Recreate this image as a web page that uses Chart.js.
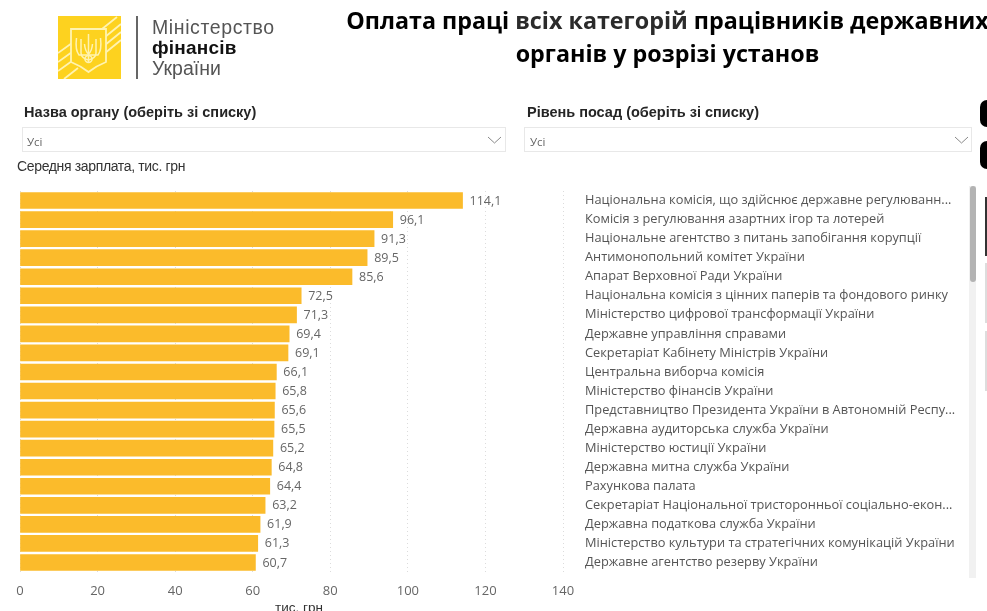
<!DOCTYPE html>
<html lang="uk">
<head>
<meta charset="utf-8">
<title>Оплата праці</title>
<script src="https://cdn.jsdelivr.net/npm/chart.js@4"></script>
<style>
html,body{margin:0;padding:0;background:#fff;}
#page{position:relative;width:987px;height:611px;overflow:hidden;background:#fff;}
#page div{position:absolute;}
#chart{position:absolute;left:0;top:0;}
.title{left:340px;width:655px;top:4px;text-align:center;white-space:nowrap;font:bold 23.3px/33px "Open Sans",sans-serif;color:#000;}
.title span{color:#2b2b2b;}
.logo1{left:152px;top:15px;font:19.5px/24px "Liberation Sans",sans-serif;color:#555;letter-spacing:.6px;}
.logo2{left:152px;top:36px;font:bold 19px/24px "Liberation Sans",sans-serif;color:#111;letter-spacing:.2px;}
.logo3{left:152px;top:56px;font:19.5px/24px "Liberation Sans",sans-serif;color:#555;}
.bar{left:136px;top:16px;width:2px;height:63px;background:#666;}
.lbl{font:bold 14.5px/18px "Liberation Sans",sans-serif;color:#252525;}
.box{height:23px;border:1px solid #e8e8e8;box-sizing:content-box;}
.val{font:11.5px/16px "Open Sans",sans-serif;color:#666;}
.sub{left:17px;top:157px;font:14px/18px "Liberation Sans",sans-serif;color:#333;letter-spacing:-.35px;}
.unit{left:275px;top:600px;font:13.5px/16px "Liberation Sans",sans-serif;color:#333;}
.btn{background:#000;border-radius:7px;}
</style>
</head>
<body>
<div id="page">
<canvas id="chart" width="987" height="611"></canvas>

<svg style="position:absolute;left:58px;top:16px" width="63" height="63" viewBox="0 0 63 63">
<rect width="63" height="63" fill="#fdd21f"/>
<g stroke="#fff3b0" stroke-width="1.8" fill="none">
<path d="M44 13L59 1M47 21L63 8M47 29L63 16M47 37L63 24M0 37L14 27M0 46L14 36M0 55L14 45M6 63L20 52"/>
</g>
<path d="M13 13H48V46Q38 50 30.500 56Q23 50 13 46Z" fill="#fdd21f" stroke="#fff3b0" stroke-width="1.8"/>
<g fill="none" stroke="#fff3b0" stroke-width="1.5">
<path d="M30.500 18V46"/>
<path d="M23 23V37Q23 42 30.500 44Q38 42 38 37V23"/>
<path d="M26.500 28Q27 35 30.500 38Q34 35 34.500 28"/>
<path d="M18.500 22Q17 34 21 39H40Q44 34 42.500 22"/>
<circle cx="30.500" cy="43" r="3.500"/>
</g>
</svg>
<div class="bar"></div>
<div class="logo1">Міністерство</div>
<div class="logo2">фінансів</div>
<div class="logo3">України</div>

<div class="title">Оплата праці <span>всіх категорій</span> працівників державних<br>органів у розрізі установ</div>

<div class="lbl" style="left:24px;top:103px">Назва органу (оберіть зі списку)</div>
<div class="box" style="left:22px;top:127px;width:482px"></div>
<div class="val" style="left:27px;top:134px">Усі</div>
<svg style="position:absolute;left:487px;top:136px" width="15" height="9"><path d="M1 1L7.500 7L14 1" fill="none" stroke="#888"/></svg>

<div class="lbl" style="left:527px;top:103px">Рівень посад (оберіть зі списку)</div>
<div class="box" style="left:524px;top:127px;width:446px"></div>
<div class="val" style="left:530px;top:134px">Усі</div>
<svg style="position:absolute;left:954px;top:136px" width="15" height="9"><path d="M1 1L7.500 7L14 1" fill="none" stroke="#888"/></svg>

<div class="sub">Середня зарплата, тис. грн</div>
<div class="unit">тис. грн</div>

<div style="left:969px;top:186px;width:7px;height:392px;background:#f1f1f1"></div>
<div style="left:970px;top:186px;width:6px;height:96px;background:#b3b3b3;border-radius:3px"></div>

<div class="btn" style="left:980px;top:100px;width:20px;height:27px"></div>
<div class="btn" style="left:980px;top:141px;width:20px;height:28px"></div>
<div style="left:985px;top:197px;width:3px;height:59px;background:#333"></div>
<div style="left:985px;top:263px;width:3px;height:60px;background:#ddd"></div>
<div style="left:985px;top:331px;width:3px;height:60px;background:#ddd"></div>
</div>

<script>
const categories = [
  'Національна комісія, що здійснює державне регулюванн...',
  'Комісія з регулювання азартних ігор та лотерей',
  'Національне агентство з питань запобігання корупції',
  'Антимонопольний комітет України',
  'Апарат Верховної Ради України',
  'Національна комісія з цінних паперів та фондового ринку',
  'Міністерство цифрової трансформації України',
  'Державне управління справами',
  'Секретаріат Кабінету Міністрів України',
  'Центральна виборча комісія',
  'Міністерство фінансів України',
  'Представництво Президента України в Автономній Респу...',
  'Державна аудиторська служба України',
  'Міністерство юстиції України',
  'Державна митна служба України',
  'Рахункова палата',
  'Секретаріат Національної тристоронньої соціально-екон...',
  'Державна податкова служба України',
  'Міністерство культури та стратегічних комунікацій України',
  'Державне агентство резерву України'
];
const salaries = [114.1, 96.1, 91.3, 89.5, 85.6, 72.5, 71.3, 69.4, 69.1, 66.1, 65.8, 65.6, 65.5, 65.2, 64.8, 64.4, 63.2, 61.9, 61.3, 60.7];
const xTicks = [0, 20, 40, 60, 80, 100, 120, 140];

// підписи значень біля стовпчиків
const valueLabels = {
  id: 'valueLabels',
  afterDatasetsDraw(chart){
    const ctx = chart.ctx;
    const meta = chart.getDatasetMeta(0);
    ctx.save();
    ctx.font = '12.5px "Open Sans"';
    ctx.fillStyle = '#666';
    ctx.textBaseline = 'middle';
    meta.data.forEach((bar, i) => {
      ctx.fillText(salaries[i].toFixed(1).replace('.', ','), bar.x + 7, bar.y + 0.5);
    });
    ctx.restore();
  }
};

new Chart(document.getElementById('chart'), {
  type: 'bar',
  data: {
    labels: categories,
    datasets: [{
      data: salaries,
      backgroundColor: '#fbbb2b',
      barThickness: 16
    }]
  },
  plugins: [valueLabels],
  options: {
    indexAxis: 'y',
    responsive: false,
    animation: false,
    layout: {padding: {left: 20, top: 191, right: 0, bottom: 0}},
    plugins: {legend: {display: false}, tooltip: {enabled: false}},
    scales: {
      x: {
        min: 0,
        max: 140,
        afterBuildTicks(axis){ axis.ticks = xTicks.map(v => ({value: v})); },
        afterFit(axis){ axis.height = 39; },
        border: {display: false, dash: [1, 3]},
        grid: {color: '#dcdcdc', lineWidth: 1, drawTicks: false},
        ticks: {font: {family: '"Open Sans"', size: 13}, color: '#666', padding: 11, maxRotation: 0}
      },
      y: {
        position: 'right',
        afterFit(axis){ axis.width = 424; },
        border: {display: false},
        grid: {display: false},
        ticks: {font: {family: '"Open Sans"', size: 12.8}, color: '#555', padding: 14, autoSkip: false}
      }
    }
  }
});
</script>
</body>
</html>
